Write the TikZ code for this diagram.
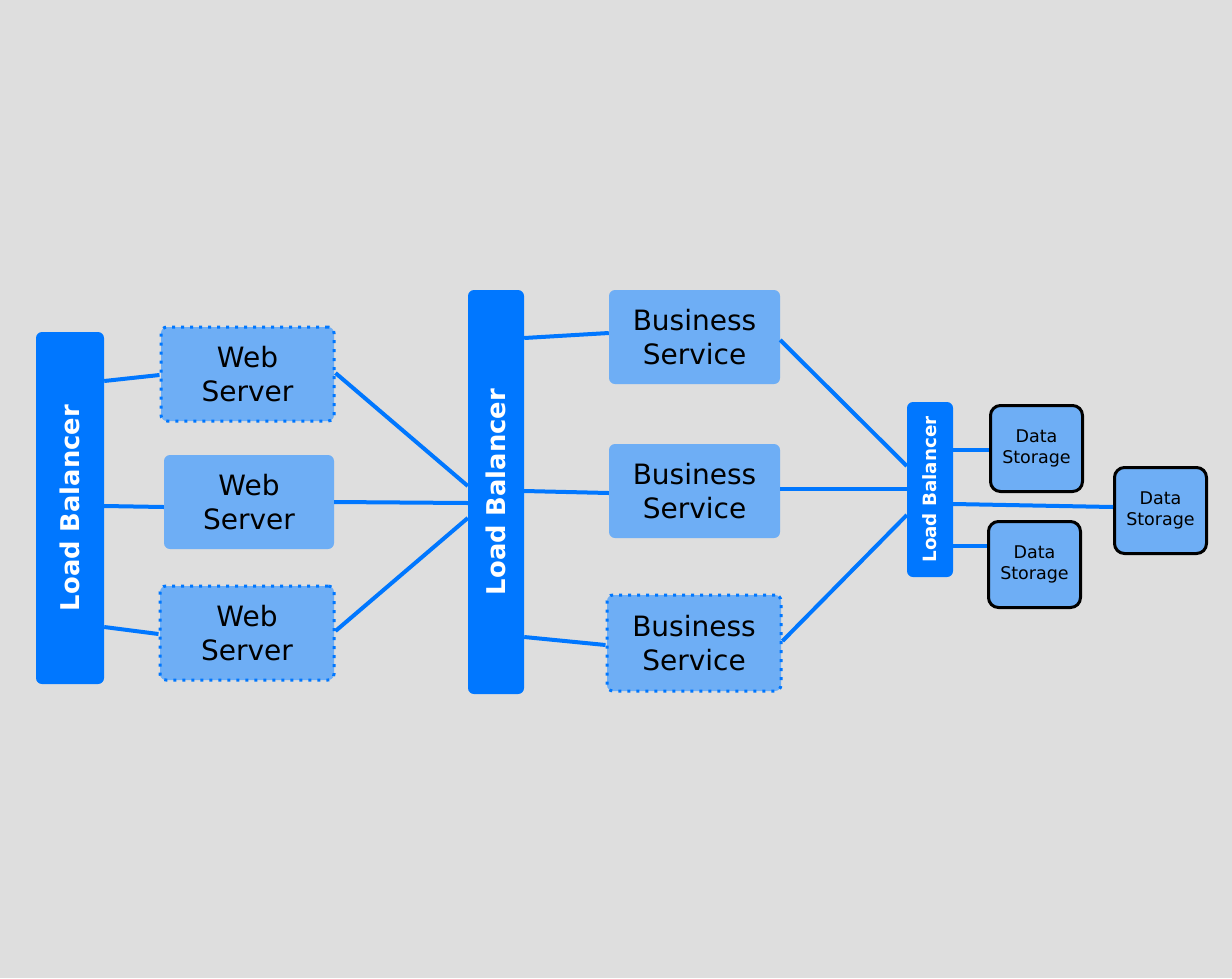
\documentclass[tikz,border=0pt]{standalone}
\usepackage{fontspec}
\setmainfont{DejaVu Sans}
\usepackage{tikz}
\usetikzlibrary{positioning}
\definecolor{lbblue}{HTML}{0077FF}
\definecolor{boxblue}{HTML}{6EAEF5}
\definecolor{bggray}{HTML}{DEDEDE}
\tikzstyle{link} = [draw=lbblue, line width=4pt]

\begin{document}
\begin{tikzpicture}[x=1pt, y=-1pt]
	% Define styles for balancers, servers and storage
	\tikzstyle{balancer} = [rectangle, fill=lbblue, rounded corners=6pt, inner sep=0pt]
	\tikzstyle{lbtext} = [rotate=90, text=white, font=\fontsize{25.8}{30}\selectfont\bfseries]
	\tikzstyle{lbsmall} = [rotate=90, text=white, font=\fontsize{18.3}{22}\selectfont\bfseries]
	\tikzstyle{server} = [rectangle, fill=boxblue, rounded corners=6pt, inner sep=0pt, align=center, minimum height=94pt, font=\fontsize{28}{34}\selectfont]
	\tikzstyle{spare} = [draw=lbblue, line width=3pt, dash pattern=on 3pt off 6pt]
	\tikzstyle{storage} = [rectangle, fill=boxblue, draw=black, line width=3pt, rounded corners=10pt, inner sep=0pt, minimum width=92pt, minimum height=86pt, align=center, font=\fontsize{17.5}{21.5}\selectfont]

	% Background
	\fill[bggray] (0,0) rectangle (1232,978);

	% Load balancers
	\node[balancer, minimum width=68pt, minimum height=352pt, label={[lbtext]center:Load Balancer}] (lbA) at (70,508) {};
	\node[balancer, minimum width=56pt, minimum height=404pt, label={[lbtext]center:Load Balancer}] (lbB) at (496,492) {};
	\node[balancer, minimum width=46pt, minimum height=175pt, label={[lbsmall]center:Load Balancer}] (lbC) at (930,489.5) {};

	% Web servers
	\node[server, spare, minimum width=173pt] (wsA) at (247.5,374) {Web\\Server};
	\node[server, minimum width=170pt] (wsB) at (249,502) {Web\\Server};
	\node[server, spare, minimum width=174pt] (wsC) at (247,633) {Web\\Server};

	% Business services
	\node[server, minimum width=171pt] (bsA) at (694.5,337) {Business\\Service};
	\node[server, minimum width=171pt] (bsB) at (694.5,491) {Business\\Service};
	\node[server, spare, minimum width=174pt, minimum height=96pt] (bsC) at (694,643) {Business\\Service};

	% Data storage
	\node[storage] (dsA) at (1036.5,448.5) {Data\\Storage};
	\node[storage] (dsB) at (1034.5,564.5) {Data\\Storage};
	\node[storage] (dsC) at (1160.5,510.5) {Data\\Storage};

	% Connections
	\draw[link] (lbA.east |- 0,381) -- (wsA.west |- 0,375);
	\draw[link] (lbA.east |- 0,506) -- (wsB.west |- 0,507);
	\draw[link] (lbA.east |- 0,627) -- (wsC.west |- 0,634);
	\draw[link] (wsA.east |- 0,373) -- (lbB.west |- 0,486);
	\draw[link] (wsB.east |- 0,502) -- (lbB.west |- 0,503);
	\draw[link] (wsC.east |- 0,631) -- (lbB.west |- 0,518);
	\draw[link] (lbB.east |- 0,338) -- (bsA.west |- 0,333);
	\draw[link] (lbB.east |- 0,491) -- (bsB.west |- 0,493);
	\draw[link] (lbB.east |- 0,637) -- (bsC.west |- 0,645);
	\draw[link] (bsA.east |- 0,340) -- (lbC.west |- 0,466);
	\draw[link] (bsB.east |- 0,489) -- (lbC.west |- 0,489);
	\draw[link] (bsC.east |- 0,641) -- (lbC.west |- 0,515);
	\draw[link] (lbC.east |- 0,450) -- (dsA.west |- 0,450);
	\draw[link] (lbC.east |- 0,504) -- (dsC.west |- 0,507);
	\draw[link] (lbC.east |- 0,546) -- (dsB.west |- 0,546);
\end{tikzpicture}
\end{document}
